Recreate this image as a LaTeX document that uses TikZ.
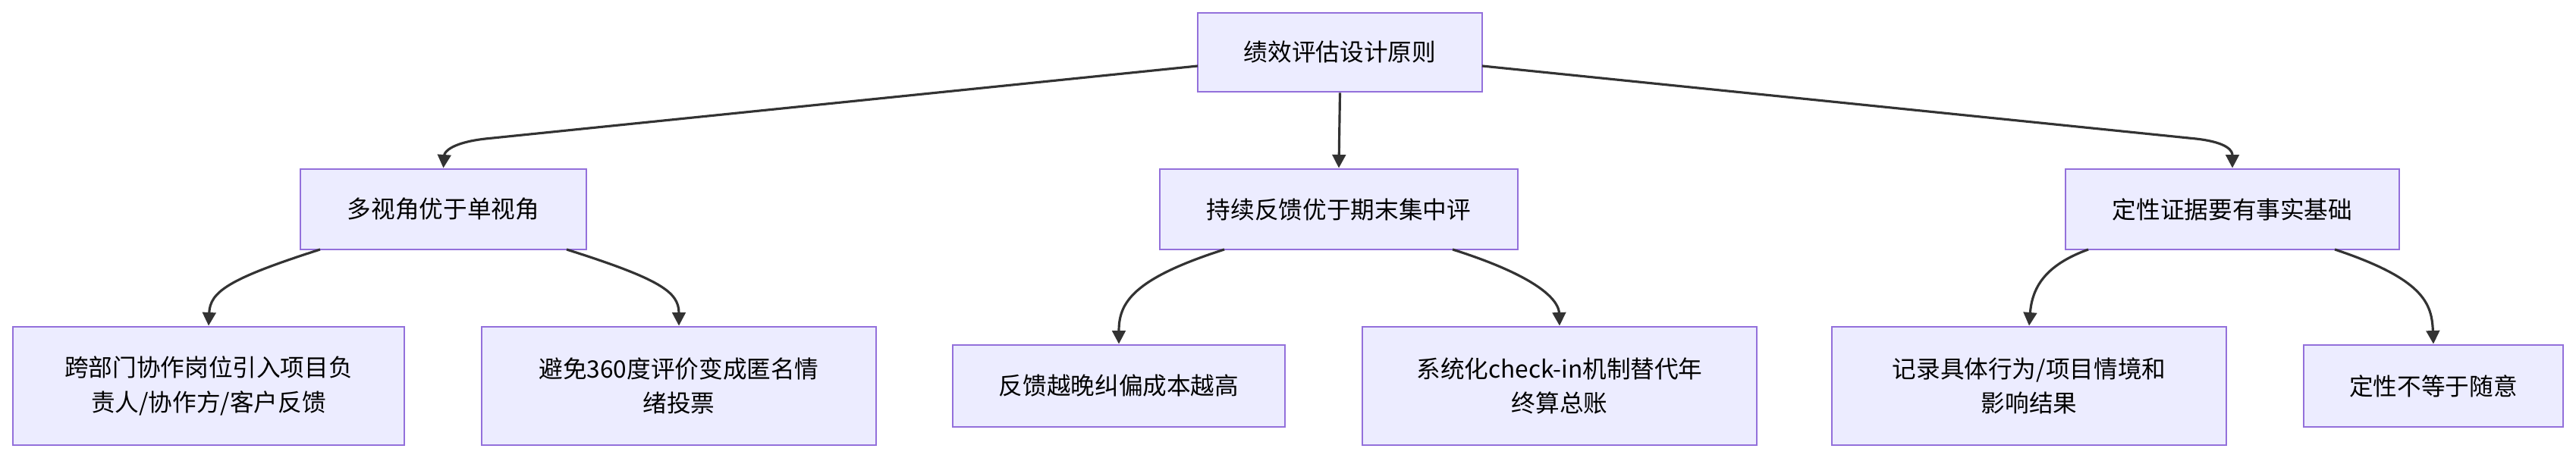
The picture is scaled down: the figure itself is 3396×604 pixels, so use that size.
\documentclass[tikz,border=0pt]{standalone}
\usepackage{fontspec}
\setmainfont{Noto Sans CJK SC}
\usetikzlibrary{arrows.meta}
\definecolor{nfill}{HTML}{ECECFF}
\definecolor{nline}{HTML}{9370DB}
\definecolor{eline}{HTML}{333333}
\begin{document}
\begin{tikzpicture}[x=0.01cm,y=-0.01cm,
  box/.style={draw=nline,fill=nfill,line width=0.8pt,font=\fontsize{9}{13}\selectfont,align=center,inner sep=0pt},
  arr/.style={draw=eline,line width=0.9pt,-{Triangle[length=5pt,width=5pt]}}]
\useasboundingbox (0,0) rectangle (3396,604);
\newcommand{\bx}[6]{\node[box,minimum width={(#3-#2)*0.01cm},minimum height={(#5-#4)*0.01cm}] (#1) at ({(#2+#3)/2},{(#4+#5)/2}) {#6};}
\bx{root}{1579}{1954}{17}{121}{绩效评估设计原则}
\bx{a}{396}{773}{223}{329}{多视角优于单视角}
\bx{b}{1529}{2001}{223}{329}{持续反馈优于期末集中评}
\bx{c}{2723}{3163}{223}{329}{定性证据要有事实基础}
\bx{l1}{17}{533}{431}{587}{跨部门协作岗位引入项目负\\责人/协作方/客户反馈}
\bx{l2}{635}{1155}{431}{587}{避免360度评价变成匿名情\\绪投票}
\bx{l3}{1256}{1694}{455}{563}{反馈越晚纠偏成本越高}
\bx{l4}{1796}{2316}{431}{587}{系统化check-in机制替代年\\终算总账}
\bx{l5}{2415}{2935}{431}{587}{记录具体行为/项目情境和\\影响结果}
\bx{l6}{3037}{3379}{455}{563}{定性不等于随意}
\draw[arr] (1579,87) -- (640,183) .. controls (596,188) and (586,200) .. (a.north);
\draw[arr] (root.south) -- (b.north);
\draw[arr] (1954,87) -- (2895,183) .. controls (2939,188) and (2943,200) .. (c.north);
\draw[arr] (422,329) .. controls (300,368) and (277,385) .. (l1.north);
\draw[arr] (747,329) .. controls (870,368) and (895,385) .. (l2.north);
\draw[arr] (1614,329) .. controls (1492,368) and (1475,400) .. (l3.north);
\draw[arr] (1915,329) .. controls (2038,368) and (2055,400) .. (l4.north);
\draw[arr] (2753,329) .. controls (2695,350) and (2679,380) .. (l5.north);
\draw[arr] (3078,329) .. controls (3195,368) and (3206,400) .. (l6.north);
\end{tikzpicture}
\end{document}
